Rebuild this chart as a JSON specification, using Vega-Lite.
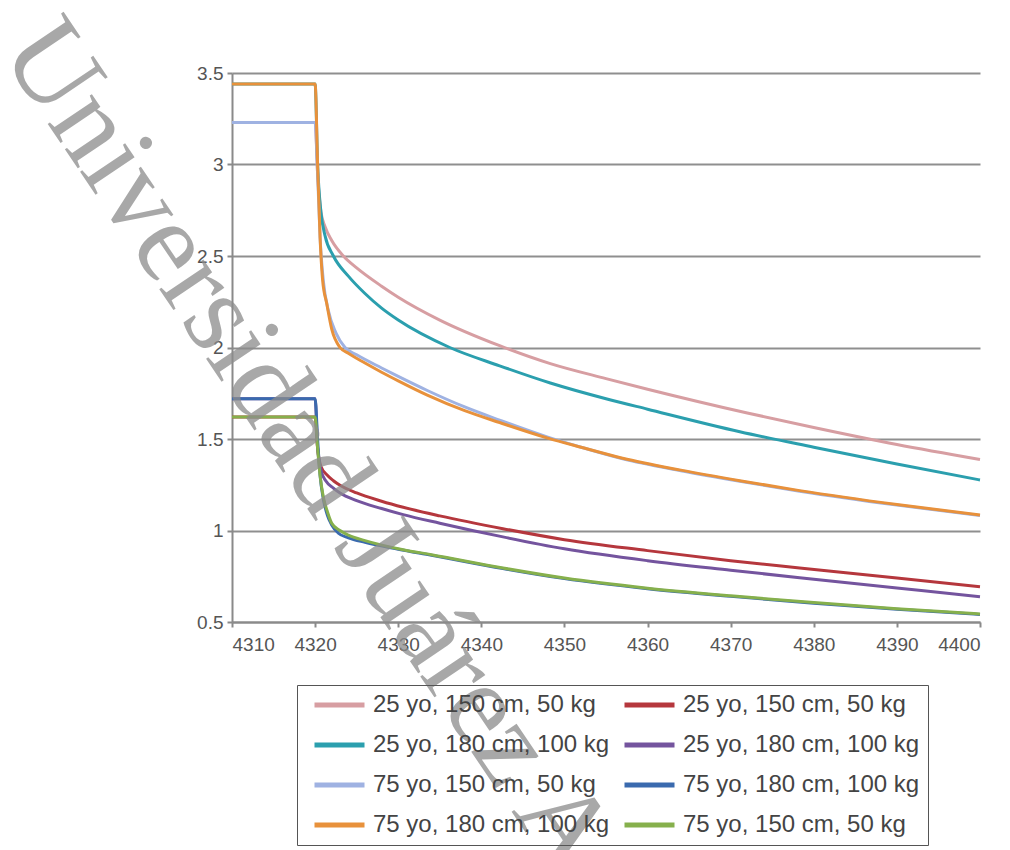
{
  "$schema": "https://vega.github.io/schema/vega-lite/v6.json",
  "width": 748,
  "height": 549,
  "autosize": "none",
  "padding": {"left": 232, "top": 73, "right": 30, "bottom": 228},
  "background": "white",
  "config": {
    "view": {"stroke": null},
    "font": "Liberation Sans",
    "axis": {
      "labelFont": "Liberation Sans",
      "labelFontSize": 19,
      "labelColor": "#555555",
      "domainColor": "#8a8a8a",
      "domainWidth": 2,
      "tickColor": "#8a8a8a",
      "tickWidth": 2,
      "tickSize": 5,
      "gridColor": "#8f8f8f",
      "gridWidth": 2,
      "gridOpacity": 1,
      "title": null
    }
  },
  "datasets": {
    "curves": [
      {"s": "p", "x": 4310, "y": 3.23}, {"s": "p", "x": 4320, "y": 3.23}, {"s": "p", "x": 4320.3, "y": 2.95}, {"s": "p", "x": 4320.7, "y": 2.74}, {"s": "p", "x": 4321.2, "y": 2.66}, {"s": "p", "x": 4322, "y": 2.585}, {"s": "p", "x": 4323.4, "y": 2.5}, {"s": "p", "x": 4325, "y": 2.435}, {"s": "p", "x": 4328, "y": 2.335}, {"s": "p", "x": 4330, "y": 2.275}, {"s": "p", "x": 4335, "y": 2.15}, {"s": "p", "x": 4342.2, "y": 2.01}, {"s": "p", "x": 4348.3, "y": 1.912}, {"s": "p", "x": 4355, "y": 1.83}, {"s": "p", "x": 4360, "y": 1.772}, {"s": "p", "x": 4372, "y": 1.642}, {"s": "p", "x": 4380, "y": 1.563}, {"s": "p", "x": 4390, "y": 1.47}, {"s": "p", "x": 4400, "y": 1.388},

      {"s": "t", "x": 4310, "y": 3.44}, {"s": "t", "x": 4320, "y": 3.44}, {"s": "t", "x": 4320.3, "y": 3.0}, {"s": "t", "x": 4320.7, "y": 2.74}, {"s": "t", "x": 4321.2, "y": 2.61}, {"s": "t", "x": 4322.2, "y": 2.5}, {"s": "t", "x": 4324, "y": 2.39}, {"s": "t", "x": 4326, "y": 2.295}, {"s": "t", "x": 4328, "y": 2.215}, {"s": "t", "x": 4330, "y": 2.15}, {"s": "t", "x": 4336.2, "y": 2.0}, {"s": "t", "x": 4342.2, "y": 1.9}, {"s": "t", "x": 4348.3, "y": 1.806}, {"s": "t", "x": 4355, "y": 1.72}, {"s": "t", "x": 4360, "y": 1.663}, {"s": "t", "x": 4371.1, "y": 1.54}, {"s": "t", "x": 4380, "y": 1.455}, {"s": "t", "x": 4390, "y": 1.363}, {"s": "t", "x": 4400, "y": 1.276},

      {"s": "r", "x": 4310, "y": 1.62}, {"s": "r", "x": 4320, "y": 1.62}, {"s": "r", "x": 4320.3, "y": 1.45}, {"s": "r", "x": 4320.7, "y": 1.35}, {"s": "r", "x": 4321.5, "y": 1.3}, {"s": "r", "x": 4322.2, "y": 1.272}, {"s": "r", "x": 4323, "y": 1.247}, {"s": "r", "x": 4325, "y": 1.205}, {"s": "r", "x": 4328, "y": 1.16}, {"s": "r", "x": 4330.6, "y": 1.127}, {"s": "r", "x": 4335, "y": 1.08}, {"s": "r", "x": 4342.6, "y": 1.01}, {"s": "r", "x": 4350, "y": 0.95}, {"s": "r", "x": 4360, "y": 0.89}, {"s": "r", "x": 4370, "y": 0.835}, {"s": "r", "x": 4378.3, "y": 0.795}, {"s": "r", "x": 4390, "y": 0.74}, {"s": "r", "x": 4400, "y": 0.692},

      {"s": "pu", "x": 4310, "y": 1.72}, {"s": "pu", "x": 4320, "y": 1.72}, {"s": "pu", "x": 4320.3, "y": 1.45}, {"s": "pu", "x": 4320.7, "y": 1.33}, {"s": "pu", "x": 4321.3, "y": 1.27}, {"s": "pu", "x": 4322.2, "y": 1.232}, {"s": "pu", "x": 4323, "y": 1.205}, {"s": "pu", "x": 4325, "y": 1.163}, {"s": "pu", "x": 4328, "y": 1.12}, {"s": "pu", "x": 4330.6, "y": 1.087}, {"s": "pu", "x": 4335, "y": 1.04}, {"s": "pu", "x": 4342.6, "y": 0.965}, {"s": "pu", "x": 4350, "y": 0.9}, {"s": "pu", "x": 4360, "y": 0.835}, {"s": "pu", "x": 4370, "y": 0.783}, {"s": "pu", "x": 4378.3, "y": 0.742}, {"s": "pu", "x": 4390, "y": 0.686}, {"s": "pu", "x": 4400, "y": 0.638},

      {"s": "lb", "x": 4310, "y": 3.23}, {"s": "lb", "x": 4320, "y": 3.23}, {"s": "lb", "x": 4320.3, "y": 2.95}, {"s": "lb", "x": 4320.6, "y": 2.6}, {"s": "lb", "x": 4321, "y": 2.36}, {"s": "lb", "x": 4321.6, "y": 2.2}, {"s": "lb", "x": 4322.5, "y": 2.08}, {"s": "lb", "x": 4323.6, "y": 2.0}, {"s": "lb", "x": 4325, "y": 1.96}, {"s": "lb", "x": 4328, "y": 1.888}, {"s": "lb", "x": 4330, "y": 1.842}, {"s": "lb", "x": 4333.5, "y": 1.765}, {"s": "lb", "x": 4338, "y": 1.675}, {"s": "lb", "x": 4342.2, "y": 1.603}, {"s": "lb", "x": 4348, "y": 1.51}, {"s": "lb", "x": 4352, "y": 1.455}, {"s": "lb", "x": 4357, "y": 1.392}, {"s": "lb", "x": 4364, "y": 1.327}, {"s": "lb", "x": 4371.1, "y": 1.269}, {"s": "lb", "x": 4378.3, "y": 1.215}, {"s": "lb", "x": 4390, "y": 1.139}, {"s": "lb", "x": 4400, "y": 1.082},

      {"s": "o", "x": 4310, "y": 3.44}, {"s": "o", "x": 4320, "y": 3.44}, {"s": "o", "x": 4320.3, "y": 3.0}, {"s": "o", "x": 4320.6, "y": 2.6}, {"s": "o", "x": 4320.9, "y": 2.37}, {"s": "o", "x": 4321.4, "y": 2.24}, {"s": "o", "x": 4322, "y": 2.1}, {"s": "o", "x": 4323, "y": 2.0}, {"s": "o", "x": 4324, "y": 1.968}, {"s": "o", "x": 4326, "y": 1.915}, {"s": "o", "x": 4328, "y": 1.865}, {"s": "o", "x": 4330, "y": 1.818}, {"s": "o", "x": 4333.5, "y": 1.74}, {"s": "o", "x": 4338, "y": 1.655}, {"s": "o", "x": 4342.2, "y": 1.59}, {"s": "o", "x": 4348, "y": 1.505}, {"s": "o", "x": 4352, "y": 1.455}, {"s": "o", "x": 4357, "y": 1.395}, {"s": "o", "x": 4364, "y": 1.33}, {"s": "o", "x": 4371.1, "y": 1.272}, {"s": "o", "x": 4378.3, "y": 1.218}, {"s": "o", "x": 4390, "y": 1.142}, {"s": "o", "x": 4400, "y": 1.085},

      {"s": "b", "x": 4310, "y": 1.72}, {"s": "b", "x": 4320, "y": 1.72}, {"s": "b", "x": 4320.3, "y": 1.5}, {"s": "b", "x": 4320.6, "y": 1.3}, {"s": "b", "x": 4321, "y": 1.17}, {"s": "b", "x": 4321.5, "y": 1.08}, {"s": "b", "x": 4322, "y": 1.03}, {"s": "b", "x": 4322.8, "y": 0.985}, {"s": "b", "x": 4324, "y": 0.96}, {"s": "b", "x": 4326, "y": 0.935}, {"s": "b", "x": 4330, "y": 0.898}, {"s": "b", "x": 4334, "y": 0.865}, {"s": "b", "x": 4342.6, "y": 0.792}, {"s": "b", "x": 4350, "y": 0.737}, {"s": "b", "x": 4360, "y": 0.682}, {"s": "b", "x": 4370, "y": 0.64}, {"s": "b", "x": 4380, "y": 0.603}, {"s": "b", "x": 4390, "y": 0.57}, {"s": "b", "x": 4400, "y": 0.541},

      {"s": "g", "x": 4310, "y": 1.62}, {"s": "g", "x": 4320, "y": 1.62}, {"s": "g", "x": 4320.3, "y": 1.45}, {"s": "g", "x": 4320.6, "y": 1.3}, {"s": "g", "x": 4321, "y": 1.18}, {"s": "g", "x": 4321.5, "y": 1.1}, {"s": "g", "x": 4322, "y": 1.04}, {"s": "g", "x": 4323, "y": 1.0}, {"s": "g", "x": 4324, "y": 0.975}, {"s": "g", "x": 4326, "y": 0.945}, {"s": "g", "x": 4330.6, "y": 0.895}, {"s": "g", "x": 4334, "y": 0.868}, {"s": "g", "x": 4342.6, "y": 0.795}, {"s": "g", "x": 4350, "y": 0.74}, {"s": "g", "x": 4360, "y": 0.685}, {"s": "g", "x": 4370, "y": 0.643}, {"s": "g", "x": 4380, "y": 0.606}, {"s": "g", "x": 4390, "y": 0.573}, {"s": "g", "x": 4400, "y": 0.544}
    ],
    "wm": [
      {"label": "Universidad Juárez Autónoma de Tabasco", "x": 4285.5, "y": 3.72}
    ]
  },
  "layer": [
    {
      "data": {"name": "curves"},
      "mark": {"type": "line", "strokeWidth": 3, "interpolate": "monotone"},
      "encoding": {
        "x": {
          "field": "x", "type": "quantitative",
          "scale": {"domain": [4310, 4400], "nice": false, "zero": false},
          "axis": {"values": [4310, 4320, 4330, 4340, 4350, 4360, 4370, 4380, 4390, 4400], "format": "d", "grid": false, "labelPadding": 8, "labelOverlap": false, "zindex": 0}
        },
        "y": {
          "field": "y", "type": "quantitative",
          "scale": {"domain": [0.5, 3.5], "nice": false, "zero": false},
          "axis": {"values": [0.5, 1, 1.5, 2, 2.5, 3, 3.5], "format": "~g", "grid": true, "labelPadding": 4, "zindex": 0}
        },
        "color": {
          "field": "s", "type": "nominal",
          "scale": {
            "domain": ["p", "r", "t", "pu", "lb", "b", "o", "g"],
            "range": ["#d79ea2", "#b5373d", "#2b9fae", "#74549e", "#9fb2e2", "#3a6aae", "#e8913b", "#86b04c"]
          },
          "legend": {
            "orient": "none",
            "legendX": 65,
            "legendY": 612,
            "zindex": 0,
            "direction": "horizontal",
            "columns": 2,
            "title": null,
            "symbolType": "M-0.5,0H9.5",
            "symbolStrokeWidth": 5,
            "symbolSize": 100,
            "labelFont": "Liberation Sans",
            "labelFontSize": 24,
            "labelColor": "#444444",
            "labelOffset": 44,
            "labelLimit": 400,
            "columnPadding": 4,
            "rowPadding": 16,
            "padding": 8,
            "strokeColor": "#555555",
            "labelExpr": "datum.value == 'p' || datum.value == 'r' ? '25 yo, 150 cm, 50 kg' : datum.value == 't' || datum.value == 'pu' ? '25 yo, 180 cm, 100 kg' : datum.value == 'lb' || datum.value == 'g' ? '75 yo, 150 cm, 50 kg' : '75 yo, 180 cm, 100 kg'"
          }
        }
      }
    },
    {
      "data": {"name": "wm"},
      "mark": {"type": "text", "angle": 56, "align": "left", "baseline": "middle", "font": "Liberation Serif", "fontSize": 116, "fill": "#8c8c8c", "opacity": 0.75},
      "encoding": {
        "x": {"field": "x", "type": "quantitative"},
        "y": {"field": "y", "type": "quantitative"},
        "text": {"field": "label"}
      }
    }
  ]
}
